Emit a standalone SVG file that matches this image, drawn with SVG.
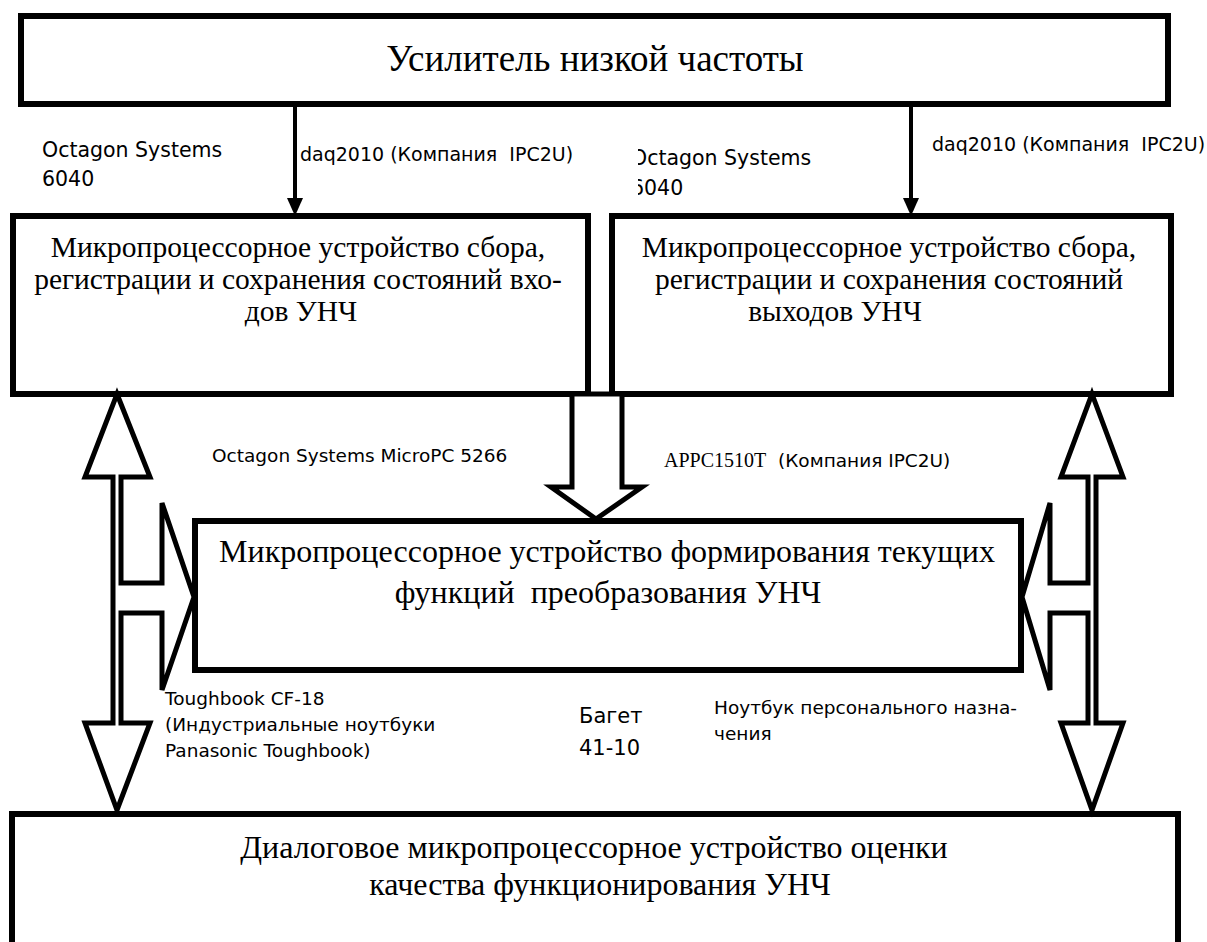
<svg xmlns="http://www.w3.org/2000/svg" width="1207" height="942" viewBox="0 0 1207 942">
<style>
.box{fill:#fff;stroke:#000;stroke-width:6}
.hollow{fill:#fff;stroke:#000;stroke-width:5;stroke-linejoin:miter}
.line{stroke:#000;stroke-width:4;fill:none}
.t{font-family:"Liberation Serif","Times New Roman",serif;fill:#000;text-anchor:middle}
.s{font-family:"DejaVu Sans","Liberation Sans",sans-serif;font-size:18.5px;fill:#000}
.big{font-size:21px}
.oct{font-size:20.5px}
.daq{font-size:19px}
</style>
<defs>
<clipPath id="clipOct"><rect x="638" y="120" width="240" height="90"/></clipPath>
</defs>
<rect width="1207" height="942" fill="#fff"/>
<g id="connectors">
<line class="line" x1="295" y1="104" x2="295" y2="198"/>
<path d="M287,198 L303,198 L295,216 Z" fill="#000"/>
<line class="line" x1="911" y1="104" x2="911" y2="198"/>
<path d="M903,198 L919,198 L911,216 Z" fill="#000"/>
</g>
<g id="node-top">
<rect class="box" x="21" y="16" width="1147" height="88"/>
<text class="t" x="595" y="71" font-size="37">Усилитель низкой частоты</text>
</g>
<g id="node-left">
<rect class="box" x="13" y="216" width="575" height="178"/>
<text class="t" x="298" y="257" font-size="29.5">Микропроцессорное устройство сбора,</text>
<text class="t" x="298" y="289" font-size="29.5">регистрации и сохранения состояний вхо-</text>
<text class="t" x="301" y="321" font-size="29.5">дов УНЧ</text>
</g>
<g id="node-right">
<rect class="box" x="612" y="216" width="559" height="178"/>
<text class="t" x="889" y="257" font-size="29.5">Микропроцессорное устройство сбора,</text>
<text class="t" x="889" y="289" font-size="29.5">регистрации и сохранения состояний</text>
<text class="t" x="835" y="321" font-size="29.5">выходов УНЧ</text>
</g>
<g id="node-center">
<rect class="box" x="195" y="521" width="826" height="149"/>
<text class="t" x="607" y="562" font-size="32">Микропроцессорное устройство формирования текущих</text>
<text class="t" x="608" y="603" font-size="32" xml:space="preserve">функций  преобразования УНЧ</text>
</g>
<g id="node-bottom">
<rect class="box" x="12" y="814" width="1166" height="160"/>
<text class="t" x="594" y="858" font-size="32">Диалоговое микропроцессорное устройство оценки</text>
<text class="t" x="600" y="895" font-size="32">качества функционирования УНЧ</text>
</g>
<g id="arrows-hollow">
<polygon class="hollow" points="572,394 572,487 551,487 596,519 642,487 622,487 622,394"/>
<polygon class="hollow" points="117,394 150,477 121,477 121,583 162,583 162,503 194,597 162,690 162,613 121,613 121,723 150,723 117,810 85,723 113,723 113,477 85,477"/>
<polygon class="hollow" points="1092,394 1123,477 1096,477 1096,723 1123,723 1092,810 1061,723 1088,723 1088,613 1050,613 1050,690 1022,597 1050,503 1050,583 1088,583 1088,477 1061,477"/>
</g>
<g id="labels">
<text class="s oct" x="42" y="157">Octagon Systems</text>
<text class="s oct" x="42" y="186">6040</text>
<text class="s daq" x="300" y="161" xml:space="preserve">daq2010 (Компания  IPC2U)</text>
<g clip-path="url(#clipOct)">
<text class="s oct" x="631" y="165">Octagon Systems</text>
<text class="s oct" x="631" y="195">6040</text>
</g>
<text class="s daq" x="932" y="151" xml:space="preserve">daq2010 (Компания  IPC2U)</text>
<text class="s" x="212" y="462">Octagon Systems MicroPC 5266</text>
<text class="s" x="664" y="467" xml:space="preserve"><tspan font-family="Liberation Serif, serif" style="font-size:20px">APPC1510T</tspan>  (Компания IPC2U)</text>
<text class="s" x="165" y="705">Toughbook CF-18</text>
<text class="s" x="165" y="731">(Индустриальные ноутбуки</text>
<text class="s" x="165" y="757">Panasonic Toughbook)</text>
<text class="s big" x="579" y="723">Багет</text>
<text class="s big" x="579" y="755">41-10</text>
<text class="s" x="714" y="714">Ноутбук персонального назна-</text>
<text class="s" x="714" y="740">чения</text>
</g>
</svg>
